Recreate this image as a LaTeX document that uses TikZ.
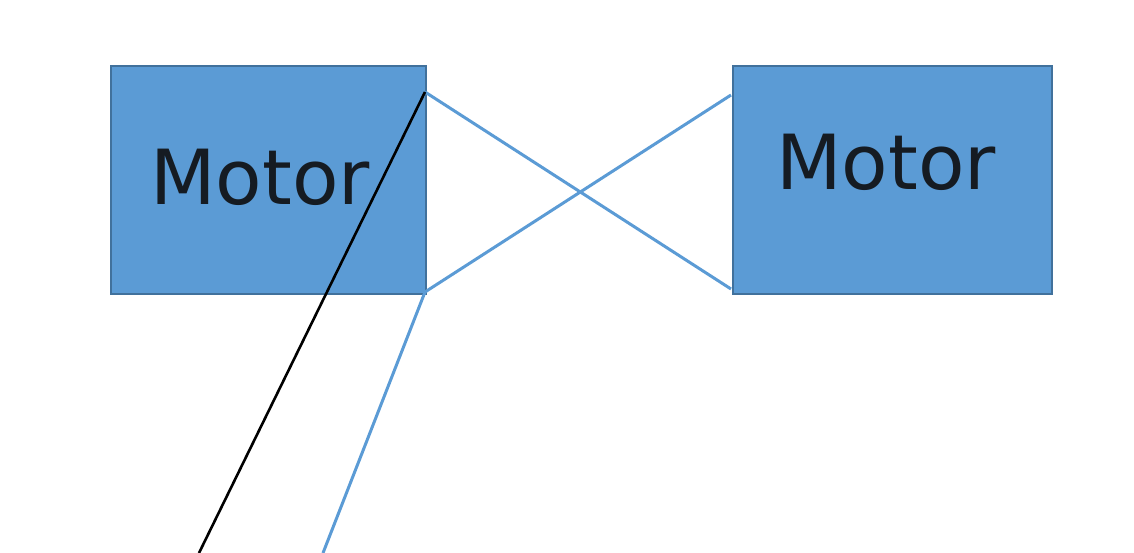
\documentclass[tikz,border=0pt]{standalone}
\usepackage{fontspec}
\setmainfont{DejaVu Sans}
\definecolor{boxfill}{HTML}{5B9BD5}
\definecolor{boxedge}{HTML}{41719C}
\definecolor{wireblue}{HTML}{5B9BD5}
\definecolor{txt}{HTML}{151B22}
\begin{document}
\begin{tikzpicture}[x=1pt,y=-1pt,
  motorbox/.style={draw=boxedge,line width=2pt,fill=boxfill,inner sep=0pt,anchor=north west},
  motortext/.style={text=txt,font=\fontsize{76}{80}\selectfont,inner sep=0pt},
  bluewire/.style={draw=wireblue,line width=3pt},
  blackwire/.style={draw=black,line width=2.6pt}]
\useasboundingbox (0,0) rectangle (1134,553);
\node[motorbox,minimum width=315pt,minimum height=228pt] (L) at (110,65) {};
\node[motorbox,minimum width=319pt,minimum height=228pt] (R) at (732,65) {};
\node[motortext] (LT) at (260,177) {Motor};
\node[motortext] (RT) at (886,162) {Motor};
\coordinate (Ltop) at (425,92);
\coordinate (Lbot) at (425,292);
\coordinate (Rtop) at (731,95);
\coordinate (Rbot) at (731,289);
\coordinate (blackend) at (199,553);
\coordinate (blueend) at (323,553);
\draw[bluewire] (Ltop) -- (Rbot);
\draw[bluewire] (Rtop) -- (Lbot) -- (blueend);
\draw[blackwire] (Ltop) -- (blackend);
\end{tikzpicture}
\end{document}
